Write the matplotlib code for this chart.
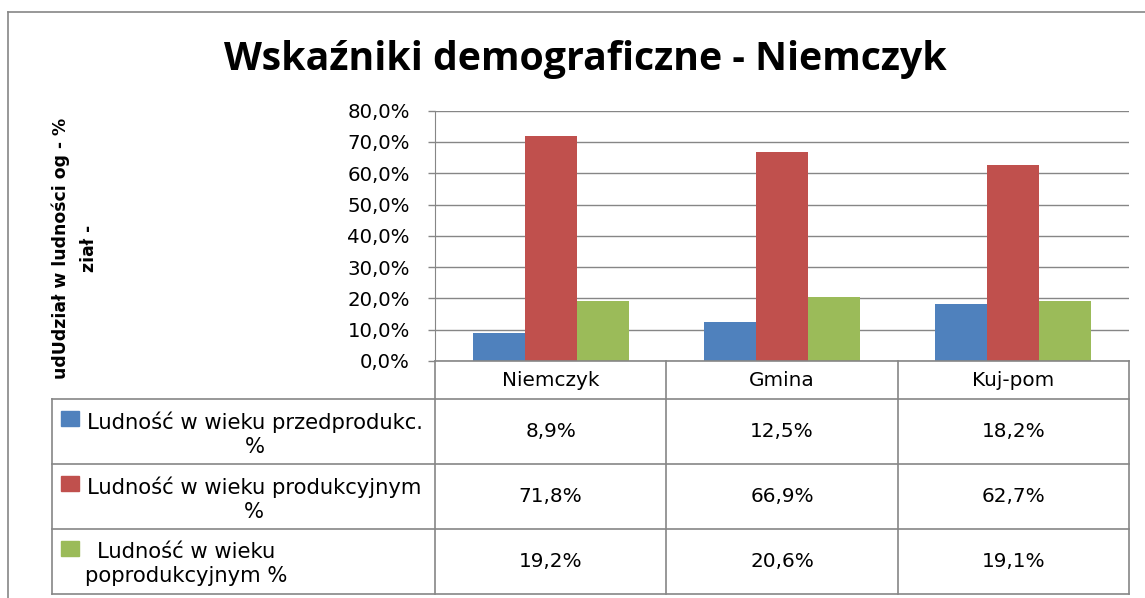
import matplotlib
matplotlib.use("Agg")
import numpy as np
import matplotlib.pyplot as plt
from matplotlib.patches import Rectangle
from matplotlib.lines import Line2D
from matplotlib.ticker import FuncFormatter

# --- dane ---
categories = ["Niemczyk", "Gmina", "Kuj-pom"]
przedprod = [8.9, 12.5, 18.2]
prod = [71.8, 66.9, 62.7]
poprod = [19.2, 20.6, 19.1]
series = [przedprod, prod, poprod]
series_labels = ["Ludność w wieku przedprodukc.\n%",
                 "Ludność w wieku produkcyjnym\n%",
                 "Ludność w wieku\npoprodukcyjnym %"]
colors = ["#4F81BD", "#C0504D", "#9BBB59"]
yticks = [0, 10, 20, 30, 40, 50, 60, 70, 80]
title = "Wskaźniki demograficzne - Niemczyk"
ylabel = "udUdział w ludności og - %\nział -"

GRID = "#868686"
W, H = 1145, 598
plt.rcParams["font.family"] = ["DejaVu Sans"]


def fx(px):
    return px / W


def fy(py):
    return 1 - py / H


def pct(v):
    return f"{v:.1f}%".replace(".", ",")


fig = plt.figure(figsize=(W / 100, H / 100), dpi=100)

# ramka wykresu
fig.add_artist(Line2D([fx(8), fx(8)], [fy(12), 0], color=GRID, lw=1.2))
fig.add_artist(Line2D([fx(8), 1], [fy(12), fy(12)], color=GRID, lw=1.2))

fig.text(fx(585), fy(70), title, ha="center", va="baseline",
         fontsize=28.3, fontweight="bold", family=["Open Sans", "DejaVu Sans"])
fig.text(fx(75), fy(248), ylabel, rotation=90, ha="center", va="center",
         multialignment="center", fontsize=12.4, fontweight="bold",
         linespacing=1.75)

# wykres słupkowy
PL, PR, PT, PB = 435, 1129, 110.7, 361
ax = fig.add_axes([fx(PL), fy(PB), fx(PR) - fx(PL), fy(PT) - fy(PB)])
x = np.arange(len(categories))
bw = 0.225
for k, (vals, c) in enumerate(zip(series, colors)):
    ax.bar(x + (k - 1) * bw, vals, width=bw, color=c, zorder=3)
ax.set_xlim(-0.5, len(categories) - 0.5)
ax.set_ylim(0, 80)
ax.set_yticks(yticks)
ax.yaxis.set_major_formatter(FuncFormatter(lambda v, p: pct(v)))
ax.grid(axis="y", color=GRID, lw=1.0, zorder=0)
ax.set_xticks([])
for s in ["top", "right", "bottom"]:
    ax.spines[s].set_visible(False)
ax.spines["left"].set_color(GRID)
ax.tick_params(axis="y", length=5, width=1, color=GRID, pad=13,
               labelsize=14.2)

# tabela danych
TL, TB = 52, 594
unit = (PR - PL) / len(categories)
x0 = -0.5 - (PL - TL) / unit
tax = fig.add_axes([fx(TL), fy(TB), fx(PR) - fx(TL), fy(PB) - fy(TB)])
tax.set_xlim(x0, len(categories) - 0.5)
tax.set_ylim(TB - PB, 0)
tax.axis("off")

rows = [0, 38, 103, 168, 233]
lk = dict(color=GRID, lw=1.2, clip_on=False)
tax.plot([-0.5, len(categories) - 0.5], [0, 0], **lk)
for r in rows[1:]:
    tax.plot([x0, len(categories) - 0.5], [r, r], **lk)
tax.plot([x0, x0], [rows[1], rows[-1]], **lk)
for i in range(len(categories) + 1):
    tax.plot([i - 0.5, i - 0.5], [0, rows[-1]], **lk)

for i, cat in enumerate(categories):
    tax.text(i, rows[1] / 2, cat, ha="center", va="center", fontsize=14.4)

text_cx = [255, 254, 186]
for j, (vals, lab, c) in enumerate(zip(series, series_labels, colors)):
    top, bot = rows[j + 1], rows[j + 2]
    tax.add_patch(Rectangle((x0 + 9 / unit, top + 12), 18 / unit, 15,
                            color=c, clip_on=False))
    tax.text(x0 + (text_cx[j] - TL) / unit, (top + bot) / 2 + 3, lab,
             ha="center", va="center", multialignment="center",
             fontsize=15.2, linespacing=1.25)
    for i, v in enumerate(vals):
        tax.text(i, (top + bot) / 2, pct(v), ha="center", va="center",
                 fontsize=14.4)

fig.savefig("out.png", dpi=100)
